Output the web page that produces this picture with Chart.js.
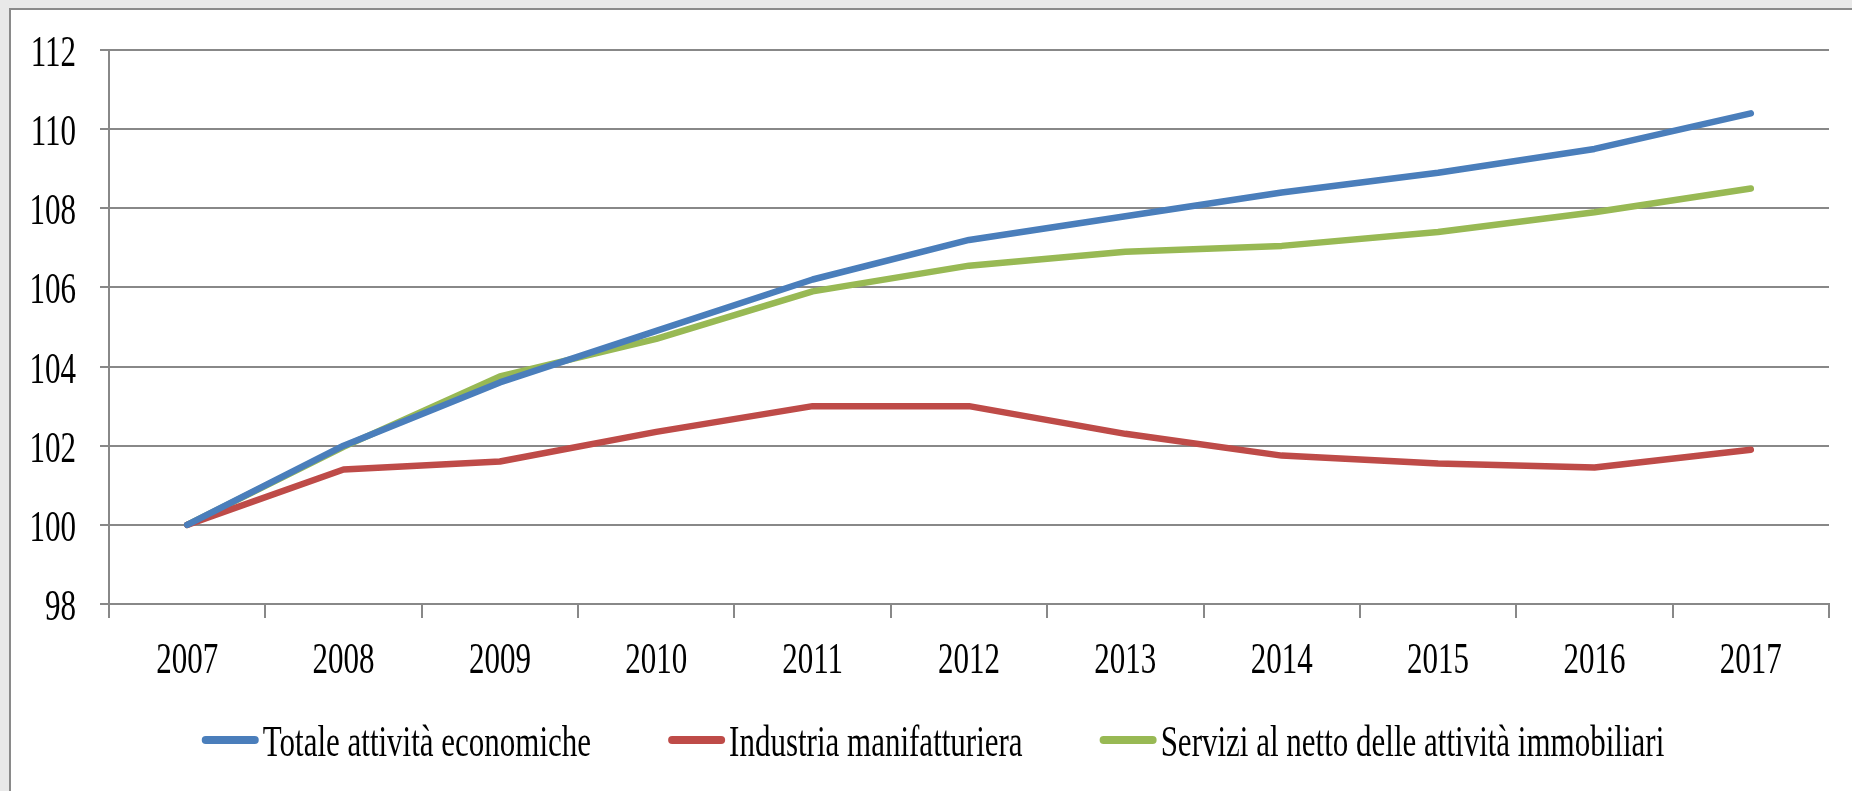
<!DOCTYPE html>
<html>
<head>
<meta charset="utf-8">
<script src="https://cdn.jsdelivr.net/npm/chart.js@4.4.0/dist/chart.umd.min.js"></script>
<style>
html,body{margin:0;padding:0;background:#e9e9e9;overflow:hidden}
#c{position:absolute;left:0;top:0}
</style>
</head>
<body>
<canvas id="c" width="1852" height="791"></canvas>
<script>
// ---- data ----
const years = ['2007','2008','2009','2010','2011','2012','2013','2014','2015','2016','2017'];
const totale    = [100, 102.0, 103.6, 104.9, 106.2, 107.2, 107.8, 108.4, 108.9, 109.5, 110.4];
const industria = [100, 101.4, 101.6, 102.35, 103.0, 103.0, 102.3, 101.75, 101.55, 101.45, 101.9];
const servizi   = [100, 101.97, 103.75, 104.7, 105.9, 106.55, 106.9, 107.05, 107.4, 107.9, 108.5];
const seriesNames = ['Totale attività economiche', 'Industria manifatturiera', 'Servizi al netto delle attività immobiliari'];
const seriesColors = ['#4A7EBB', '#BE4B48', '#98B954'];
const yMin = 98, yMax = 112, yStep = 2;

const FONT = '31px "Liberation Serif", "Times New Roman", serif';
const STRETCH = 1.4;
const GRID = '#888888';

function stretchedText(ctx, txt, x, y, align) {
  ctx.save();
  ctx.translate(x, y);
  ctx.scale(1, STRETCH);
  ctx.textAlign = align;
  ctx.textBaseline = 'alphabetic';
  ctx.fillText(txt, 0, 0);
  ctx.restore();
}

const framePlugin = {
  id: 'frame',
  beforeDraw(chart) {
    const ctx = chart.ctx;
    ctx.save();
    ctx.fillStyle = '#e9e9e9';
    ctx.fillRect(0, 0, chart.width, chart.height);
    ctx.fillStyle = '#ffffff';
    ctx.fillRect(10, 9, chart.width - 10, chart.height - 9);
    ctx.strokeStyle = '#8a8a8a';
    ctx.lineWidth = 2;
    ctx.beginPath();
    ctx.moveTo(10, chart.height);
    ctx.lineTo(10, 9);
    ctx.lineTo(chart.width, 9);
    ctx.stroke();
    ctx.restore();
  }
};

const textPlugin = {
  id: 'texts',
  afterDraw(chart) {
    const ctx = chart.ctx;
    const ys = chart.scales.y, xs = chart.scales.x;
    ctx.save();
    ctx.fillStyle = '#000000';
    ctx.font = FONT;
    // y tick labels
    ys.ticks.forEach(t => {
      const py = ys.getPixelForValue(t.value);
      stretchedText(ctx, String(t.value), 76, py + 16, 'right');
    });
    // x tick labels
    years.forEach((lab, i) => {
      const px = xs.getPixelForValue(i);
      stretchedText(ctx, lab, px, 673, 'center');
    });
    // legend
    const lineLen = 57, gapTxt = 4, gapItem = 77;
    const widths = chart.data.datasets.map(d => ctx.measureText(d.label).width);
    let total = widths.reduce((a, b) => a + b, 0) + chart.data.datasets.length * (lineLen + gapTxt) + (chart.data.datasets.length - 1) * gapItem;
    let x = 933 - total / 2;
    chart.data.datasets.forEach((d, i) => {
      ctx.save();
      ctx.strokeStyle = d.borderColor;
      ctx.lineWidth = 8;
      ctx.lineCap = 'round';
      ctx.beginPath();
      ctx.moveTo(x + 4, 740);
      ctx.lineTo(x + lineLen - 4, 740);
      ctx.stroke();
      ctx.restore();
      x += lineLen + gapTxt;
      stretchedText(ctx, d.label, x, 756, 'left');
      x += widths[i] + gapItem;
    });
    ctx.restore();
  }
};

const seriesData = [totale, industria, servizi];
new Chart(document.getElementById('c'), {
  type: 'line',
  data: {
    labels: years,
    datasets: seriesData.map((arr, i) => ({
      label: seriesNames[i],
      data: arr,
      borderColor: seriesColors[i],
      backgroundColor: seriesColors[i],
      borderWidth: 6.5,
      borderCapStyle: 'round',
      borderJoinStyle: 'round',
      pointRadius: 0,
      tension: 0,
      fill: false
    }))
  },
  options: {
    responsive: false,
    animation: false,
    devicePixelRatio: 1,
    layout: { padding: { top: 50, right: 23, left: 0, bottom: 0 } },
    plugins: { legend: { display: false }, tooltip: { enabled: false } },
    scales: {
      x: {
        type: 'category',
        offset: true,
        grid: { display: true, drawOnChartArea: false, drawTicks: true, tickLength: 14, offset: true, color: GRID, lineWidth: 2 },
        border: { display: true, color: GRID, width: 2 },
        ticks: { display: false },
        afterFit: s => { s.height = 187; }
      },
      y: {
        min: yMin, max: yMax,
        ticks: { display: false, stepSize: yStep },
        grid: { display: true, drawOnChartArea: true, drawTicks: true, tickLength: 9, color: GRID, lineWidth: 2 },
        border: { display: true, color: GRID, width: 2 },
        afterFit: s => { s.width = 109; }
      }
    }
  },
  plugins: [framePlugin, textPlugin]
});
</script>
</body>
</html>
